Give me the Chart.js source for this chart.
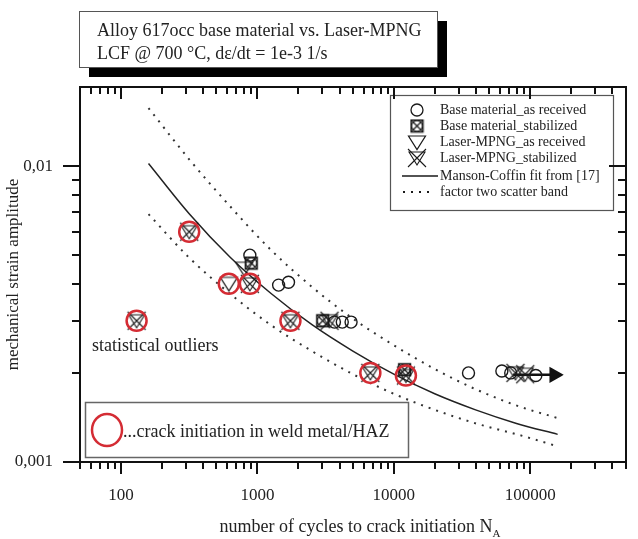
<!DOCTYPE html>
<html>
<head>
<meta charset="utf-8">
<script src="https://cdn.jsdelivr.net/npm/chart.js@4.4.1/dist/chart.umd.min.js"></script>
<style>
  html, body { margin: 0; padding: 0; background: #fff; }
</style>
</head>
<body>
<canvas id="lcfChart" width="638" height="539"></canvas>
<script>
// values (N = cycles to crack initiation, eps = strain amplitude)
const baseAsReceivedN   = [880, 1430, 1690, 3670, 4190, 4860, 35300, 62000, 72000, 110000];
const baseAsReceivedEps = [0.0050, 0.00396, 0.00405, 0.00297, 0.00297, 0.00297, 0.0020, 0.00203, 0.0020, 0.00196];

const baseStabilizedN   = [900, 3010, 12000];
const baseStabilizedEps = [0.0047, 0.0030, 0.00205];

const laserAsReceivedN   = [800, 617];
const laserAsReceivedEps = [0.0045, 0.0040];

const laserStabilizedN   = [130, 316, 880, 1746, 3380, 6730, 12270, 78000, 92000];
const laserStabilizedEps = [0.0030, 0.0060, 0.0040, 0.0030, 0.0030, 0.0020, 0.00196, 0.0020, 0.00198];

const weldCrackN   = [130, 316, 617, 880, 1746, 6730, 12270];
const weldCrackEps = [0.0030, 0.0060, 0.0040, 0.0040, 0.0030, 0.0020, 0.00196];

const runoutN   = [75000, 150000];
const runoutEps = [0.00197, 0.00197];

const mansonN   = [159, 316, 631, 1259, 2512, 5012, 10000, 19950, 39800, 79400, 159000];
const mansonEps = [0.0102, 0.0069, 0.00492, 0.00371, 0.00291, 0.00237, 0.00198, 0.0017, 0.0015, 0.00135, 0.00124];

const upperBandN   = [159, 318, 632, 1260, 2520, 5020, 10000, 20000, 40000, 80000, 157000];
const upperBandEps = [0.0157, 0.0105, 0.0073, 0.0052, 0.0039, 0.00305, 0.00248, 0.00206, 0.00176, 0.00155, 0.00141];

const lowerBandN   = [159, 316, 631, 1259, 2512, 5012, 10000, 20000, 40000, 80000, 159000];
const lowerBandEps = [0.00688, 0.0049, 0.0037, 0.0029, 0.00237, 0.00198, 0.0017, 0.0015, 0.00135, 0.00124, 0.00113];

const xTickLabels = [100, 1000, 10000, 100000];
const yTickLabels = [0.001, 0.01];

const legendLabels = [
    'Base material_as received',
    'Base material_stabilized',
    'Laser-MPNG_as received',
    'Laser-MPNG_stabilized',
    'Manson-Coffin fit from [17]',
    'factor two scatter band'
];

const serif = '"Liberation Serif", "Times New Roman", serif';

function pts(xs, ys) {
    return xs.map((x, i) => ({ x: x, y: ys[i] }));
}

// small canvases used as point styles
function marker(kind) {
    const c = document.createElement('canvas');
    const g = c.getContext('2d');
    g.strokeStyle = '#1a1a1a';
    if (kind === 'baseStab') {
        c.width = 15; c.height = 15;
        g.strokeStyle = '#1a1a1a';
        g.lineWidth = 1.3;
        g.strokeRect(1.5, 1.5, 12, 12);
        g.beginPath(); g.arc(7.5, 7.5, 5.5, 0, Math.PI * 2); g.stroke();
        g.beginPath();
        g.moveTo(2, 2); g.lineTo(13, 13);
        g.moveTo(13, 2); g.lineTo(2, 13);
        g.stroke();
    } else if (kind === 'laserAs') {
        c.width = 20; c.height = 17;
        g.strokeStyle = '#1a1a1a';
        g.lineWidth = 1.2;
        g.beginPath();
        g.moveTo(1.5, 2); g.lineTo(18.5, 2); g.lineTo(10, 15.5); g.closePath();
        g.stroke();
    } else if (kind === 'laserStab') {
        c.width = 22; c.height = 22;
        g.strokeStyle = '#1a1a1a';
        g.lineWidth = 1.1;
        g.beginPath();
        g.moveTo(3, 5); g.lineTo(19, 5); g.lineTo(11, 18); g.closePath();
        g.stroke();
        g.beginPath();
        g.moveTo(2, 2); g.lineTo(20, 20);
        g.moveTo(20, 2); g.lineTo(2, 20);
        g.stroke();
    }
    return c;
}

const baseStabImg = marker('baseStab');
const laserAsImg = marker('laserAs');
const laserStabImg = marker('laserStab');

// legend box and the text boxes
const annotations = {
    id: 'annotations',
    afterDatasetsDraw(chart) {
        const ctx = chart.ctx;
        ctx.save();
        ctx.setLineDash([]);

        // title box with shadow
        ctx.fillStyle = '#000';
        ctx.fillRect(89, 21, 358, 56);
        ctx.fillStyle = '#fff';
        ctx.fillRect(79, 11, 358, 56);
        ctx.strokeStyle = '#555';
        ctx.lineWidth = 1;
        ctx.strokeRect(79.5, 11.5, 358, 56);
        ctx.fillStyle = '#222';
        ctx.font = '18px ' + serif;
        ctx.textBaseline = 'middle';
        ctx.textAlign = 'left';
        ctx.fillText('Alloy 617occ base material vs. Laser-MPNG', 97, 31);
        ctx.fillText('LCF @ 700 \u00B0C, d\u03B5/dt = 1e-3 1/s', 97, 54);

        // legend box
        const lx = 390, ly = 95, lw = 223, lh = 115;
        ctx.fillStyle = '#fff';
        ctx.fillRect(lx, ly, lw, lh);
        ctx.strokeStyle = '#555';
        ctx.lineWidth = 1.2;
        ctx.strokeRect(lx + 0.5, ly + 0.5, lw, lh);
        const rows = [110, 126, 142, 158, 176, 192];
        ctx.font = '14px ' + serif;
        ctx.fillStyle = '#222';
        legendLabels.forEach((t, i) => ctx.fillText(t, 440, rows[i]));
        ctx.strokeStyle = '#1a1a1a';
        ctx.lineWidth = 1.3;
        ctx.beginPath(); ctx.arc(417, rows[0], 6, 0, Math.PI * 2); ctx.stroke();
        ctx.drawImage(baseStabImg, 417 - 7.5, rows[1] - 7.5);
        ctx.drawImage(laserAsImg, 417 - 10, rows[2] - 8);
        ctx.drawImage(laserStabImg, 417 - 11, rows[3] - 11);
        ctx.lineWidth = 1.5;
        ctx.beginPath(); ctx.moveTo(402, rows[4]); ctx.lineTo(438, rows[4]); ctx.stroke();
        ctx.setLineDash([2, 6]);
        ctx.lineWidth = 2;
        ctx.beginPath(); ctx.moveTo(403, rows[5]); ctx.lineTo(433, rows[5]); ctx.stroke();
        ctx.setLineDash([]);

        // statistical outliers note
        ctx.font = '18px ' + serif;
        ctx.fillStyle = '#222';
        ctx.fillText('statistical outliers', 92, 346);

        // weld metal box
        ctx.fillStyle = '#fff';
        ctx.fillRect(85, 402, 323, 55);
        ctx.strokeStyle = '#666';
        ctx.lineWidth = 1.5;
        ctx.strokeRect(85.5, 402.5, 323, 55);
        ctx.strokeStyle = '#d42c34';
        ctx.lineWidth = 2.5;
        ctx.beginPath(); ctx.ellipse(107, 430, 15, 16, 0, 0, Math.PI * 2); ctx.stroke();
        ctx.font = '18px ' + serif;
        ctx.fillStyle = '#222';
        ctx.fillText('...crack initiation in weld metal/HAZ', 123, 432);

        // x axis title with subscript
        ctx.textBaseline = 'alphabetic';
        const main = 'number of cycles to crack initiation N';
        const w = ctx.measureText(main).width;
        const tx = 360 - (w + 8) / 2;
        ctx.fillText(main, tx, 532);
        ctx.font = '11px ' + serif;
        ctx.fillText('A', tx + w, 537);
        ctx.restore();
    }
};

// frame and tick marks: outward on left/bottom, inward on top/right
const frame = {
    id: 'frame',
    afterDraw(chart) {
        const ctx = chart.ctx;
        const a = chart.chartArea;
        const xs = chart.scales.x, ys = chart.scales.y;
        const left = Math.round(a.left), right = Math.round(a.right);
        const top = Math.round(a.top), bottom = Math.round(a.bottom);
        ctx.save();
        ctx.fillStyle = '#111';
        ctx.fillRect(left - 1, top - 1, right - left + 2, 2);
        ctx.fillRect(left - 1, bottom - 1, right - left + 2, 2);
        ctx.fillRect(left - 1, top - 1, 2, bottom - top + 2);
        ctx.fillRect(right - 1, top - 1, 2, bottom - top + 2);

        const xLo = Math.log10(xs.min), xHi = Math.log10(xs.max);
        for (let e = Math.floor(xLo); e <= Math.ceil(xHi); e++) {
            for (let m = 1; m <= 9; m++) {
                const v = m * Math.pow(10, e);
                const lv = Math.log10(v);
                if (lv < xLo - 1e-9 || lv > xHi + 1e-9) continue;
                const px = Math.round(xs.getPixelForValue(v));
                const len = m === 1 ? 12 : 7;
                ctx.fillRect(px - 1, bottom, 2, len);
                ctx.fillRect(px - 1, top, 2, len);
            }
        }
        const yLo = Math.log10(ys.min), yHi = Math.log10(ys.max);
        for (let e = Math.floor(yLo); e <= Math.ceil(yHi); e++) {
            for (let m = 1; m <= 9; m++) {
                const v = m * Math.pow(10, e);
                const lv = Math.log10(v);
                if (lv < yLo - 1e-9 || lv > yHi + 1e-9) continue;
                const py = Math.round(ys.getPixelForValue(v));
                const len = m === 1 ? 17 : 8;
                ctx.fillRect(left - len, py - 1, len, 2);
                ctx.fillRect(right - len, py - 1, len, 2);
            }
        }
        ctx.restore();
    }
};

const ctx = document.getElementById('lcfChart').getContext('2d');

const chart = new Chart(ctx, {
    type: 'scatter',
    data: {
        datasets: [
            {
                label: 'crack initiation in weld metal/HAZ',
                data: pts(weldCrackN, weldCrackEps),
                pointStyle: 'circle',
                pointRadius: 10,
                borderColor: '#d42c34',
                backgroundColor: 'rgba(255,255,255,0)',
                borderWidth: 2.5
            },
            {
                label: legendLabels[0],
                data: pts(baseAsReceivedN, baseAsReceivedEps),
                pointStyle: 'circle',
                pointRadius: 6,
                borderColor: '#1a1a1a',
                backgroundColor: 'rgba(255,255,255,0)',
                borderWidth: 1.4
            },
            {
                label: legendLabels[1],
                data: pts(baseStabilizedN, baseStabilizedEps),
                pointStyle: baseStabImg
            },
            {
                label: legendLabels[2],
                data: pts(laserAsReceivedN, laserAsReceivedEps),
                pointStyle: laserAsImg
            },
            {
                label: legendLabels[3],
                data: pts(laserStabilizedN, laserStabilizedEps),
                pointStyle: laserStabImg
            },
            {
                label: 'run-out',
                data: pts(runoutN, runoutEps),
                showLine: true,
                borderColor: '#111',
                backgroundColor: '#111',
                borderWidth: 2.5,
                pointStyle: 'triangle',
                pointRotation: 90,
                pointRadius: [0, 7]
            },
            {
                label: legendLabels[4],
                data: pts(mansonN, mansonEps),
                showLine: true,
                pointRadius: 0,
                borderColor: '#222',
                borderWidth: 1.5,
                cubicInterpolationMode: 'monotone'
            },
            {
                label: legendLabels[5] + ' (upper)',
                data: pts(upperBandN, upperBandEps),
                showLine: true,
                pointRadius: 0,
                borderColor: '#333',
                borderWidth: 2,
                borderDash: [2, 6],
                cubicInterpolationMode: 'monotone'
            },
            {
                label: legendLabels[5] + ' (lower)',
                data: pts(lowerBandN, lowerBandEps),
                showLine: true,
                pointRadius: 0,
                borderColor: '#333',
                borderWidth: 2,
                borderDash: [2, 6],
                cubicInterpolationMode: 'monotone'
            }
        ]
    },
    options: {
        responsive: false,
        animation: false,
        devicePixelRatio: 1,
        layout: { padding: { left: 0, right: 2, top: 87, bottom: 0 } },
        plugins: {
            legend: { display: false },
            tooltip: { enabled: false }
        },
        scales: {
            x: {
                type: 'logarithmic',
                min: 50,
                max: 500000,
                grid: { display: false, drawTicks: false, tickLength: 0 },
                border: { display: false },
                afterBuildTicks: s => { s.ticks = xTickLabels.map(v => ({ value: v })); },
                afterFit: s => {
                    s.height = 77;
                    s.paddingLeft = 0;
                    s.paddingRight = 0;
                },
                ticks: {
                    autoSkip: false,
                    maxRotation: 0,
                    padding: 23,
                    color: '#222',
                    font: { family: serif, size: 17 },
                    callback: v => String(v)
                }
            },
            y: {
                type: 'logarithmic',
                min: 0.001,
                max: 0.0185,
                grid: { display: false, drawTicks: false, tickLength: 0 },
                border: { display: false },
                afterBuildTicks: s => { s.ticks = yTickLabels.map(v => ({ value: v })); },
                afterFit: s => {
                    s.width = 80;
                    s.paddingTop = 0;
                    s.paddingBottom = 0;
                },
                title: {
                    display: true,
                    text: 'mechanical strain amplitude',
                    color: '#222',
                    font: { family: serif, size: 17 },
                    padding: { top: 3, bottom: 0 }
                },
                ticks: {
                    autoSkip: false,
                    padding: 27,
                    color: '#222',
                    font: { family: serif, size: 17 },
                    callback: v => String(v).replace('.', ',')
                }
            }
        }
    },
    plugins: [annotations, frame]
});
</script>
</body>
</html>
